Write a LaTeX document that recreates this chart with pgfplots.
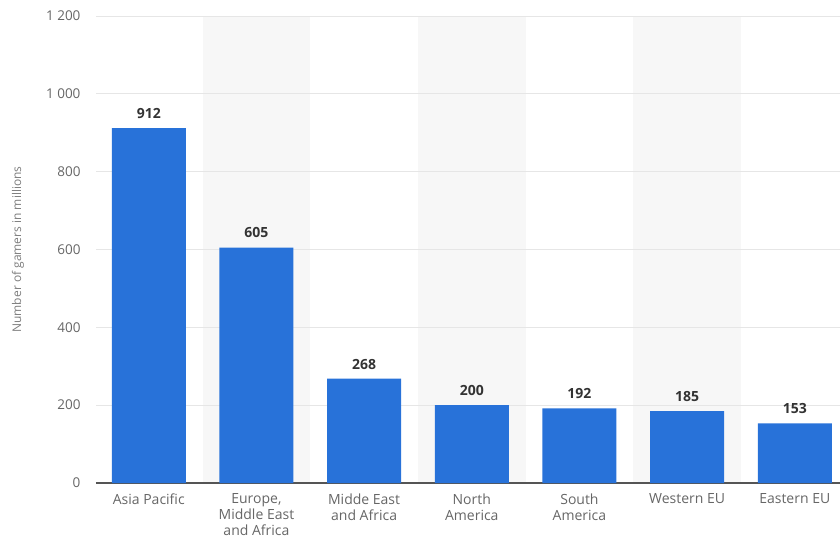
\documentclass[border=0pt]{standalone}
\usepackage{fontspec}
\setmainfont{Open Sans}
\usepackage{pgfplots}
\pgfplotsset{compat=1.18}
\definecolor{barblue}{HTML}{2872D9}
\definecolor{bandgray}{HTML}{F7F7F7}
\definecolor{gridgray}{HTML}{E6E6E6}
\definecolor{ticktext}{HTML}{666666}
\definecolor{valtext}{HTML}{333333}
\definecolor{axisline}{HTML}{555555}
\begin{document}
\begin{tikzpicture}
\begin{axis}[
  set layers,
  /pgf/number format/assume math mode=true,
  scale only axis, width=744pt, height=467pt,
  xmin=-0.49, xmax=6.42, ymin=0, ymax=1200,
  axis x line*=bottom, axis y line*=left,
  x axis line style={draw=axisline, line width=1.3pt},
  y axis line style={draw=none},
  major tick length=0pt,
  ytick={0,200,400,600,800,1000,1200},
  yticklabels={0,200,400,600,800,1 000,1 200},
  yticklabel style={font=\fontsize{13.5}{15}\selectfont, text=ticktext, xshift=-12pt},
  xtick={0,1,2,3,4,5,6},
  xticklabels={Asia Pacific,{Europe,\\Middle East\\and Africa},{Midde East\\and Africa},{North\\America},{South\\America},Western EU,Eastern EU},
  xticklabel style={align=center, font=\fontsize{14}{16}\selectfont, text=ticktext, yshift=-7pt},
  ymajorgrids, grid style={draw=gridgray, line width=0.9pt},
  ylabel={Number of gamers in millions},
  every axis y label/.style={at={(axis description cs:-0.105,0.5)}, rotate=90, anchor=center, font=\fontsize{12}{14}\selectfont, text=ticktext!85},
  ybar, bar width=74pt,
  nodes near coords,
  nodes near coords style={font=\bfseries\fontsize{14}{15}\selectfont, text=valtext, anchor=south, yshift=6pt},
  clip=false,
]
\begin{pgfonlayer}{axis background}
\fill[bandgray] (axis cs:0.5,0) rectangle (axis cs:1.5,1200);
\fill[bandgray] (axis cs:2.5,0) rectangle (axis cs:3.5,1200);
\fill[bandgray] (axis cs:4.5,0) rectangle (axis cs:5.5,1200);
\end{pgfonlayer}
\addplot[fill=barblue, draw=none] coordinates {(0,912) (1,605) (2,268) (3,200) (4,192) (5,185) (6,153)};
\end{axis}
\pgfresetboundingbox
\path[use as bounding box] (-96pt,-56pt) rectangle (744pt,483pt);
\end{tikzpicture}
\end{document}
